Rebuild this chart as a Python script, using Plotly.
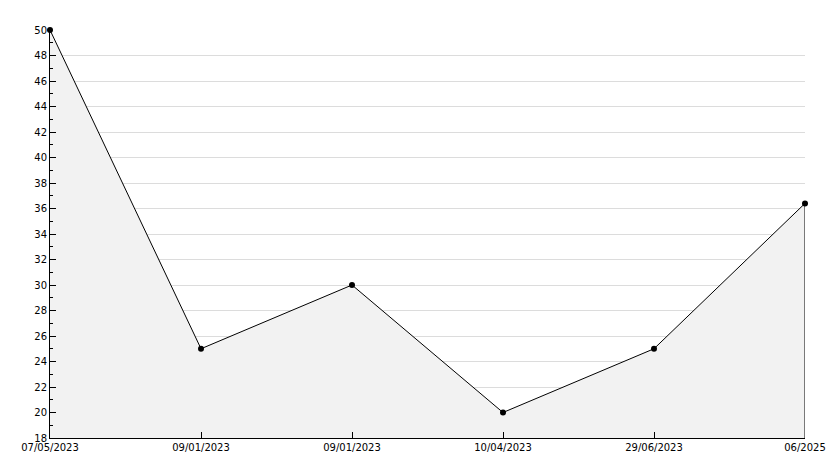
import plotly.graph_objects as go

labels = ["07/05/2023", "09/01/2023", "09/01/2023", "10/04/2023", "29/06/2023", "06/2025"]
values = [50, 25, 30, 20, 25, 36.4]
y_ticks = list(range(18, 51, 2))

x = list(range(len(labels)))

fig = go.Figure()
fig.add_trace(go.Scatter(
    x=x, y=values, mode="lines+markers",
    fill="tozeroy", fillcolor="#f2f2f2",
    line=dict(color="black", width=1),
    marker=dict(color="black", size=6, symbol="circle"),
    cliponaxis=False,
    showlegend=False, hoverinfo="skip",
))
# vertical closing edge at the last point
fig.add_trace(go.Scatter(
    x=[x[-1], x[-1]], y=[values[-1], y_ticks[0]], mode="lines",
    line=dict(color="black", width=1), showlegend=False, hoverinfo="skip",
))

font = dict(family="DejaVu Sans", size=10, color="black")
# page body has an 8px default margin, compensate in the figure margins
fig.update_layout(
    width=834, height=468,
    margin=dict(l=42, r=37, t=22, b=38),
    paper_bgcolor="white", plot_bgcolor="white",
    font=font,
    xaxis=dict(
        range=[0, len(labels) - 1], tickmode="array", tickvals=x, ticktext=labels,
        showgrid=False, zeroline=False, showline=True, linecolor="black", linewidth=1,
        ticks="inside", ticklen=6, tickcolor="black", tickfont=font, automargin=False,
    ),
    yaxis=dict(
        range=[18, 50], tickmode="array", tickvals=y_ticks,
        showgrid=True, gridcolor="#dcdcdc", gridwidth=1,
        zeroline=False, showline=True, linecolor="black", linewidth=1,
        ticks="inside", ticklen=6, tickcolor="black", tickfont=font, automargin=False,
        minor=dict(dtick=1, tick0=18, ticks="inside", ticklen=3, tickcolor="black", showgrid=False),
    ),
)
fig.write_html("out.html")
